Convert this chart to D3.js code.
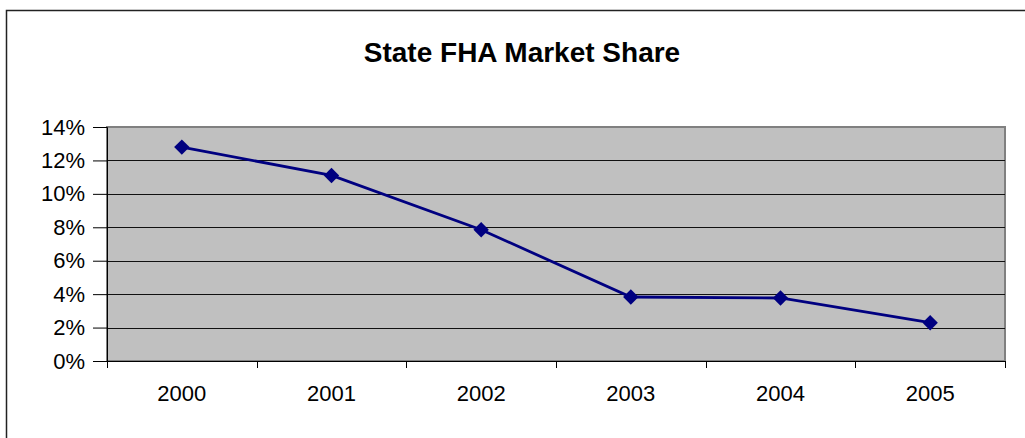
<!DOCTYPE html>
<html>
<head>
<meta charset="utf-8">
<script src="https://cdn.jsdelivr.net/npm/d3@7"></script>
<style>
  html, body { margin: 0; background: #fff; overflow: hidden; }
  svg { display: block; font-family: 'Liberation Sans', Arial, sans-serif; }
</style>
</head>
<body>
<div id="container"></div>
<script>
// Data
const years = ['2000', '2001', '2002', '2003', '2004', '2005'];
const share = [0.128, 0.111, 0.0785, 0.0383, 0.0377, 0.0229];
const yTicks = [0, 0.02, 0.04, 0.06, 0.08, 0.1, 0.12, 0.14];

const svgWidth = 1025;
const svgHeight = 438;
const plot = { left: 107, right: 1005, top: 127, bottom: 361 };

const svg = d3
  .select('#container')
  .append('svg')
  .attr('width', svgWidth)
  .attr('height', svgHeight);

// outer chart border: only top and left edges are in view
svg
  .append('path')
  .attr('d', `M6.5,${svgHeight}V10.5H${svgWidth}`)
  .attr('fill', 'none')
  .attr('stroke', '#222')
  .attr('stroke-width', 1.5);

// Title
svg
  .append('text')
  .attr('x', 522)
  .attr('y', 62)
  .attr('text-anchor', 'middle')
  .attr('font-size', '28px')
  .attr('font-weight', 'bold')
  .text('State FHA Market Share');

// Scales
const xScale = d3
  .scaleBand()
  .domain(years)
  .range([plot.left, plot.right]);

const yScale = d3
  .scaleLinear()
  .domain([0, 0.14])
  .range([plot.bottom, plot.top]);

// Plot area
svg
  .append('rect')
  .attr('x', plot.left)
  .attr('y', plot.top)
  .attr('width', plot.right - plot.left)
  .attr('height', plot.bottom - plot.top)
  .attr('fill', '#c0c0c0')
  .attr('stroke', '#808080')
  .attr('stroke-width', 2);

// Gridlines
svg
  .append('g')
  .selectAll('line')
  .data(yTicks.slice(1, -1))
  .enter()
  .append('line')
  .attr('x1', plot.left)
  .attr('x2', plot.right)
  .attr('y1', d => Math.round(yScale(d)) + 0.5)
  .attr('y2', d => Math.round(yScale(d)) + 0.5)
  .attr('stroke', '#111')
  .attr('stroke-width', 1);

// Y-AXIS
const yAxis = d3
  .axisLeft(yScale)
  .tickValues(yTicks)
  .tickFormat(d3.format('.0%'))
  .tickSize(14)
  .tickPadding(8);

svg
  .append('g')
  .attr('transform', `translate(${plot.left}, 0)`)
  .call(yAxis)
  .call(g => g.select('.domain').attr('stroke', '#000'))
  .call(g => g.selectAll('text').attr('font-size', '22px').attr('fill', '#000').attr('font-family', "'Liberation Sans', Arial, sans-serif"));

// X-AXIS (labels centred, ticks on category boundaries)
const xAxis = d3.axisBottom(xScale).tickSize(0).tickPadding(24);

svg
  .append('g')
  .attr('transform', `translate(0, ${plot.bottom})`)
  .call(xAxis)
  .call(g => g.select('.domain').attr('stroke', '#000'))
  .call(g => g.selectAll('text').attr('font-size', '22px').attr('fill', '#000').attr('font-family', "'Liberation Sans', Arial, sans-serif"));

const bounds = years.map(d => xScale(d)).concat([plot.right]);

svg
  .append('g')
  .selectAll('line')
  .data(bounds)
  .enter()
  .append('line')
  .attr('x1', d => Math.round(d) + 0.5)
  .attr('x2', d => Math.round(d) + 0.5)
  .attr('y1', plot.bottom)
  .attr('y2', plot.bottom + 7)
  .attr('stroke', '#000');

// Line
const cx = d => xScale(d) + xScale.bandwidth() / 2;

const line = d3
  .line()
  .x((d, i) => cx(years[i]))
  .y(d => yScale(d));

svg
  .append('path')
  .datum(share)
  .attr('d', line)
  .attr('fill', 'none')
  .attr('stroke', '#000080')
  .attr('stroke-width', 2.8);

// Diamond markers
svg
  .append('g')
  .selectAll('path')
  .data(share)
  .enter()
  .append('path')
  .attr('d', d3.symbol().type(d3.symbolSquare).size(118))
  .attr('transform', (d, i) => `translate(${cx(years[i])}, ${yScale(d)}) rotate(45)`)
  .attr('fill', '#000080');
</script>
</body>
</html>
